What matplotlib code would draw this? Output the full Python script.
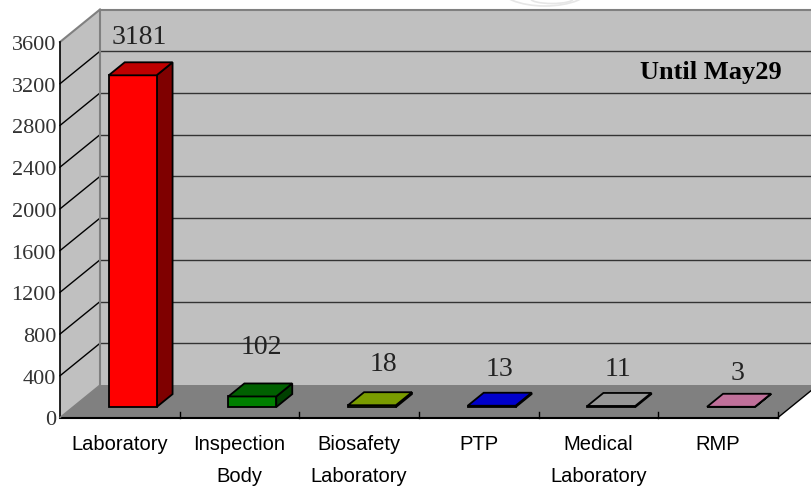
import matplotlib
matplotlib.use("Agg")
import matplotlib.pyplot as plt
from matplotlib.patches import Polygon, Ellipse

W, H = 811, 489

categories = ["Laboratory", "Inspection\nBody", "Biosafety\nLaboratory", "PTP", "Medical\nLaboratory", "RMP"]
values = [3181, 102, 18, 13, 11, 3]
y_ticks = [0, 400, 800, 1200, 1600, 2000, 2400, 2800, 3200, 3600]
front_colors = ["#FF0000", "#008000", "#7A9C00", "#0000CC", "#969696", "#C0709A"]
top_colors = ["#BF0000", "#006000", "#7A9C00", "#0000CC", "#969696", "#C0709A"]
side_colors = ["#7F0000", "#004000", "#3D4E00", "#000066", "#4B4B4B", "#60384D"]
note = "Until May29"

# pixels per unit, the fake 3d is a shear of the plain axes
px_x = 119.67
px_y = 375.5 / 3600
shift_x = 40 / px_x
shift_y = 32.5 / px_y
base_px = 418.5

# hand placed value labels, pixel nudges from the bar's back corner
label_dx = [-21, -18, -16, -19, -21, -21]
label_dy = [4, 15, 7, 3, 3, 0]


def pt(x, y, d=0.0):
    return (x + d * shift_x, y + d * shift_y)


fig = plt.figure(figsize=(W / 100, H / 100), dpi=100)
ax = fig.add_axes([0, 0, 1, 1])
ax.set_xlim(-60 / px_x, (W - 60) / px_x)
ax.set_ylim(-(H - base_px) / px_y, base_px / px_y)
ax.axis("off")

n = len(categories)
top = y_ticks[-1]

# faint watermark peeking out above the wall
for cx, cy, ew, eh in [(552, 0, 42, 9), (545, -12, 92, 38)]:
    ax.add_patch(Ellipse(((cx - 60) / px_x, (base_px - cy) / px_y), ew / px_x, eh / px_y,
                         fc="none", ec="#E6E6E6", lw=1.2, zorder=0))

# walls and floor
ax.add_patch(Polygon([pt(0, 0), pt(0, 0, 1), pt(0, top, 1), pt(0, top)], fc="#C0C0C0", ec="none"))
ax.add_patch(Polygon([pt(0, 0, 1), pt(n, 0, 1), pt(n, top, 1), pt(0, top, 1)], fc="#C0C0C0", ec="none"))
ax.add_patch(Polygon([pt(0, 0), pt(n, 0), pt(n, 0, 1), pt(0, 0, 1)], fc="#808080", ec="none"))

# grid
for t in y_ticks[1:-1]:
    a, b, c = pt(0, t), pt(0, t, 1), pt(n, t, 1)
    ax.plot([a[0], b[0]], [a[1], b[1]], color="black", lw=1)
    ax.plot([b[0], c[0]], [b[1], c[1]], color="#333333", lw=1)

# wall borders
for p, q in [(pt(0, top), pt(0, top, 1)), (pt(0, top, 1), pt(n, top, 1)), (pt(0, 0, 1), pt(0, top, 1))]:
    ax.plot([p[0], q[0]], [p[1], q[1]], color="#808080", lw=1.5)

# axes lines
ax.plot([0, 0], [0, top], color="black", lw=1.2)
ax.plot([0, n], [0, 0], color="black", lw=1.5)
a, b = pt(n, 0), pt(n, 0, 1)
ax.plot([a[0], b[0]], [a[1], b[1]], color="black", lw=1)
a, b = pt(0, 0), pt(0, 0, 1)
ax.plot([a[0], b[0]], [a[1], b[1]], color="#808080", lw=1)
for i in range(1, n + 1):
    ax.plot([i, i], [0, 6 / px_y], color="black", lw=1)

for t in y_ticks:
    ax.text(-4 / px_x, t - 2.5 / px_y, str(t), ha="right", va="center", fontsize=16,
            family="Liberation Serif", color="#333333")

# bars
d0, d1 = 0.32, 0.72
bw = 0.2
for i, v in enumerate(values):
    x0, x1 = i + 0.5 - bw, i + 0.5 + bw
    front = [pt(x0, 0, d0), pt(x1, 0, d0), pt(x1, v, d0), pt(x0, v, d0)]
    side = [pt(x1, 0, d0), pt(x1, 0, d1), pt(x1, v, d1), pt(x1, v, d0)]
    roof = [pt(x0, v, d0), pt(x1, v, d0), pt(x1, v, d1), pt(x0, v, d1)]
    ax.add_patch(Polygon(side, fc=side_colors[i], ec="black", lw=1.3, zorder=3))
    ax.add_patch(Polygon(front, fc=front_colors[i], ec="black", lw=1.3, zorder=3))
    ax.add_patch(Polygon(roof, fc=top_colors[i], ec="black", lw=1.3, zorder=3))
    lx, ly = pt(i + 0.5, v, 1)
    ax.text(lx + label_dx[i] / px_x, ly + label_dy[i] / px_y, str(v), ha="center", va="bottom", fontsize=20,
            family="Liberation Serif", color="#222222", zorder=4)
    ax.text(i + 0.5, (base_px - 435) / px_y, categories[i], ha="center", va="top", fontsize=14.5,
            family="Liberation Sans", color="black", linespacing=1.88)

ax.text((782 - 60) / px_x, (base_px - 72) / px_y, note, ha="right", va="center", fontsize=19,
        family="Liberation Serif", weight="bold", color="black")

fig.savefig("out.png", dpi=100)
